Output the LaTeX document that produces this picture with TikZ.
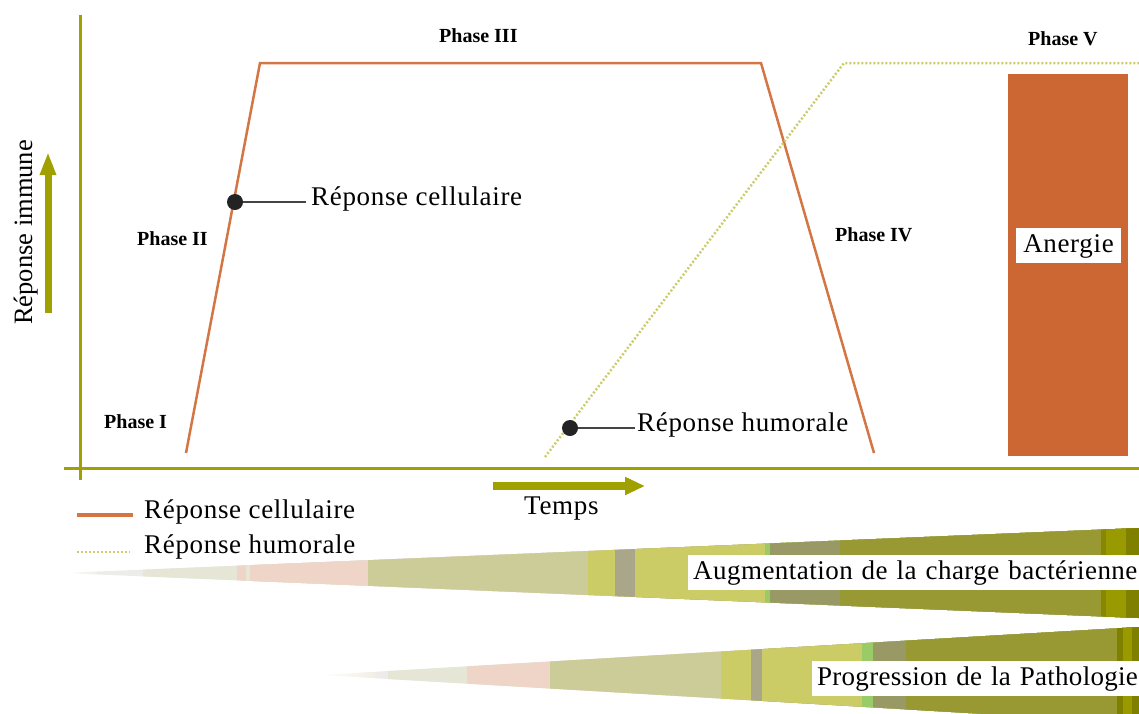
\documentclass[tikz,border=0pt]{standalone}
\usepackage{fontspec}
\setmainfont{Liberation Serif}
\newfontfamily\spacedserif[LetterSpace=2.5]{Liberation Serif}
\newfontfamily\midspacedserif[LetterSpace=1.7]{Liberation Serif}
\newfontfamily\lessspacedserif[LetterSpace=1.0]{Liberation Serif}
\usetikzlibrary{arrows.meta,calc}
\definecolor{axisol}{RGB}{160,160,0}
\definecolor{cellor}{RGB}{212,118,68}
\definecolor{humcol}{RGB}{204,204,110}
\definecolor{anergiecol}{RGB}{204,102,51}
\definecolor{dotblack}{RGB}{35,35,35}
\definecolor{wfaint}{RGB}{240,238,228}
\definecolor{wgrey}{RGB}{236,236,234}
\definecolor{wlgreen}{RGB}{230,230,214}
\definecolor{wpink}{RGB}{238,213,200}
\definecolor{wkhaki}{RGB}{204,204,153}
\definecolor{wyel}{RGB}{204,204,102}
\definecolor{wgr}{RGB}{170,166,138}
\definecolor{wgreen}{RGB}{153,204,102}
\definecolor{wdka}{RGB}{153,153,102}
\definecolor{wdkb}{RGB}{153,153,51}
\definecolor{wdkc}{RGB}{136,136,0}
\definecolor{wdkd}{RGB}{153,153,0}
\definecolor{wdke}{RGB}{128,128,0}
\begin{document}
\begin{tikzpicture}[x=1pt,y=-1pt,
  lbl/.style={inner ysep=0pt, inner xsep=5pt, font=\spacedserif\fontsize{27}{30}\selectfont},
  phase/.style={inner sep=0pt, anchor=base west, font=\fontsize{20}{22}\selectfont\bfseries},
  dotnode/.style={circle, fill=dotblack, inner sep=0pt, minimum size=16pt},
  axisline/.style={draw=axisol, line width=3pt},
  cell/.style={draw=cellor, line width=2.5pt, line join=miter},
  humo/.style={draw=humcol, line width=2.5pt, dash pattern=on 2pt off 2pt},
  leader/.style={draw=dotblack!85, line width=1.6pt},
  bigarrow/.style={draw=axisol, line width=8pt, -{Triangle[length=20pt,width=17pt]}},
  uparrow/.style={draw=axisol, line width=7pt, -{Triangle[length=23pt,width=15pt]}},
  whitebox/.style={fill=white, inner xsep=5pt, inner ysep=4pt, text height=20pt, text depth=7pt, anchor=base west, align=left, font=\spacedserif\fontsize{27}{30}\selectfont}
]
\useasboundingbox (0,0) rectangle (1139,713);

% ---- wedges ----
\begin{scope}
  \clip (62,573) -- (1139,528) -- (1139,618) -- cycle;
  \shade[left color=white, right color=wfaint] (62,500) rectangle (97,650);
  \foreach \xa/\col in {97/wgrey,143/wlgreen,237/wpink,246/wlgreen,250/wpink,368/wkhaki,588/wyel,615/wgr,635/wyel,765/wgreen,770/wdka,840/wdkb,1101/wdkc,1106/wdkd,1126/wdke}
    \fill[\col] (\xa,500) rectangle (1140,650);
\end{scope}
\begin{scope}
  \clip (320,675) -- (1139,627) -- (1139,723) -- cycle;
  \shade[left color=white, right color=wfaint] (320,600) rectangle (377,730);
  \foreach \xa/\col in {377/wgrey,388/wlgreen,467/wpink,550/wkhaki,721/wyel,751/wgr,762/wyel,862/wgreen,873/wdka,906/wdkb,1117/wdke,1123/wdkd,1132/wdke}
    \fill[\col] (\xa,600) rectangle (1140,730);
\end{scope}
\node[whitebox, text width=455pt, font=\midspacedserif\fontsize{27}{30}\selectfont] (aug) at (688,579) {Augmentation de la charge bactérienne};
\node[whitebox, text width=330pt, font=\lessspacedserif\fontsize{27}{30}\selectfont] (prog) at (812,685) {Progression de la Pathologie};

% ---- axes ----
\coordinate (vaxT) at (80,15);
\coordinate (vaxB) at (80,480);
\coordinate (haxL) at (64,468);
\coordinate (haxR) at (1139,468);
\draw[axisline] (vaxT) -- (vaxB);
\draw[axisline] (haxL) -- (haxR);

% y arrow and label
\coordinate (ya) at (48,313);
\coordinate (yb) at (48,152);
\draw[uparrow] (ya) -- (yb);
\node[lbl, inner sep=0pt, rotate=90, anchor=base west, font=\fontsize{26.5}{30}\selectfont] (ylab) at (32,325) {Réponse immune};

% time arrow
\coordinate (ta) at (493,486);
\coordinate (tb) at (645,486);
\draw[bigarrow] (ta) -- (tb);
\node[lbl, inner sep=0pt, anchor=base west] (temps) at (524,514) {Temps};

% ---- anergie ----
\node[fill=anergiecol, minimum width=120pt, minimum height=382pt, inner sep=0pt] (anrect) at (1068,265) {};
\node[fill=white, minimum width=105pt, inner ysep=4pt, text height=20pt, text depth=7pt, anchor=base, font=\spacedserif\fontsize{27}{30}\selectfont] (anergie) at (1068.5,252) {Anergie};

% ---- cellular response ----
\coordinate (c1) at (186,453);
\coordinate (c2) at (260,63);
\coordinate (c3) at (761,63);
\coordinate (c4) at (874,453);
\draw[cell] (c1) -- (c2) -- (c3) -- (c4);

% ---- humoral response ----
\coordinate (h1) at (545,457);
\coordinate (h2) at (844,63);
\coordinate (h3) at (1139,63);
\draw[humo] (h1) -- (h2) -- (h3);

% dots and labels
\node[dotnode] (d1) at (235,202) {};
\node[lbl, anchor=base west] (l1) at (306,205) {Réponse cellulaire};
\draw[leader] (d1) -- (d1 -| l1.west);
\node[dotnode] (d2) at (570,428) {};
\node[lbl, inner xsep=2pt, anchor=base west] (l2) at (635,431) {Réponse humorale};
\draw[leader] (d2) -- (d2 -| l2.west);

% phases
\node[phase] (p1) at (104,428) {Phase I};
\node[phase] (p2) at (137,245) {Phase II};
\node[phase] (p3) at (439,42) {Phase III};
\node[phase] (p4) at (835,241) {Phase IV};
\node[phase] (p5) at (1028,45) {Phase V};

% ---- legend ----
\coordinate (lg1a) at (77,515);
\coordinate (lg1b) at (133,515);
\draw[cell, line width=3.5pt] (lg1a) -- (lg1b);
\node[lbl, inner sep=0pt, anchor=base west] (lgt1) at (144,518) {Réponse cellulaire};
\coordinate (lg2a) at (77,552);
\coordinate (lg2b) at (130,552);
\draw[humo] (lg2a) -- (lg2b);
\node[lbl, inner sep=0pt, anchor=base west] (lgt2) at (144,553) {Réponse humorale};
\end{tikzpicture}
\end{document}
